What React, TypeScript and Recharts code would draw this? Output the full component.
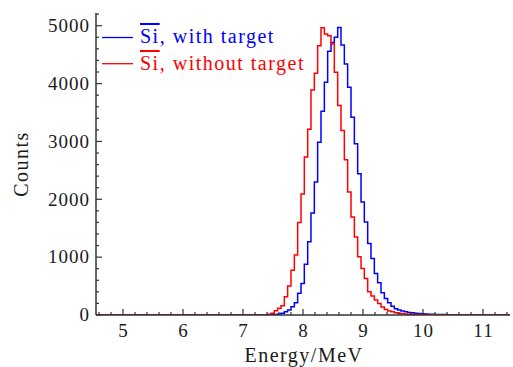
import React from 'react';
import { LineChart, Line, XAxis, YAxis } from 'recharts';

// Left edges of the histogram bins (MeV)
const energyEdges = [
  7.411, 7.467, 7.522, 7.578, 7.633, 7.689, 7.744, 7.8, 7.856, 7.911,
  7.967, 8.022, 8.078, 8.133, 8.189, 8.244, 8.3, 8.356, 8.411, 8.467,
  8.522, 8.578, 8.633, 8.689, 8.744, 8.8, 8.856, 8.911, 8.967, 9.022,
  9.078, 9.133, 9.189, 9.244, 9.3, 9.356, 9.411, 9.467, 9.522, 9.578,
  9.633, 9.689, 9.744, 9.8, 9.856, 9.911, 9.967, 10.022, 10.078, 10.133,
  10.189, 10.244, 10.3, 10.356, 10.411, 10.467, 10.522,
];

// Si-bar, with target
const blueCounts = [
  3, 5, 10, 18, 30, 57, 86, 143, 212, 374,
  546, 879, 1264, 1764, 2298, 2988, 3522, 4023, 4560, 4712,
  4800, 4970, 4667, 4340, 3937, 3420, 2960, 2443, 1954, 1609,
  1236, 977, 718, 557, 385, 287, 212, 150, 110, 85,
  68, 55, 45, 38, 30, 25, 22, 18, 15, 12,
  10, 9, 8, 7, 6, 5, 3,
];

// Si-bar, without target
const redCounts = [
  15, 30, 75, 115, 160, 315, 500, 775, 1035, 1600,
  2090, 2730, 3210, 3890, 4180, 4655, 4965, 4857, 4825, 4684,
  4195, 3620, 3190, 2684, 2126, 1695, 1350, 1005, 805, 632,
  402, 327, 258, 200, 140, 95, 70, 55, 40, 30,
  22, 18, 15, 12, 10, 8, 7, 6, 5, 4,
  4, 3, 3, 2, 2, 1, 0,
];

const xMajorTicks = [5, 6, 7, 8, 9, 10, 11];
const yMajorTicks = [0, 1000, 2000, 3000, 4000, 5000];
const xDomain: [number, number] = [4.55, 11.45];
const yDomain: [number, number] = [0, 5220];
const seriesNames = ['with target', 'without target'];
const xTitle = 'Energy/MeV';
const yTitle = 'Counts';

const FONT = 'Liberation Serif, DejaVu Serif, serif';
const numStyle = { fontFamily: FONT, fontSize: 19, letterSpacing: 1 };
const wordStyle = { fontFamily: FONT, fontSize: 20, letterSpacing: 1.5 };
const AXIS = '#333333';
const TEXT = '#1a1a1a';
const BLUE = '#0000ff';
const RED = '#ff0000';
const TICK_MARGIN = 10;

const data = [
  { e: xDomain[0], blue: 0, red: 0 },
  ...energyEdges.map((e, i) => ({ e, blue: blueCounts[i], red: redCounts[i] })),
  { e: xDomain[1], blue: blueCounts[blueCounts.length - 1], red: redCounts[redCounts.length - 1] },
];

// all tick positions (major + minor)
const xAllTicks: number[] = [];
for (let k = 23; k <= 57; k++) xAllTicks.push(Math.round(k * 2) / 10);
const yAllTicks: number[] = [];
for (let k = 0; k <= 26; k++) yAllTicks.push(k * 200);

const isXMajor = (v: number) => xMajorTicks.some((t) => Math.abs(t - v) < 1e-6);
const isYMajor = (v: number) => yMajorTicks.includes(v);

const XTick = (props: any) => {
  const { x, y, payload } = props;
  const axisY = y - TICK_MARGIN;
  const v = payload.value;
  const major = isXMajor(v);
  return (
    <g>
      <line x1={x} x2={x} y1={axisY} y2={axisY - (major ? 6 : 3)} stroke={AXIS} strokeWidth={1.2} />
      {major && (
        <text x={x + 0.5} y={axisY + 22} textAnchor="middle" fill={TEXT} style={numStyle}>
          {v}
        </text>
      )}
    </g>
  );
};

const YTick = (props: any) => {
  const { x, y, payload } = props;
  const axisX = x + TICK_MARGIN;
  const v = payload.value;
  const major = isYMajor(v);
  return (
    <g>
      <line x1={axisX} x2={axisX + (major ? 6 : 3)} y1={y} y2={y} stroke={AXIS} strokeWidth={1.2} />
      {major && (
        <text x={axisX - 6} y={y} dy={6.3} textAnchor="end" fill={TEXT} style={numStyle}>
          {v}
        </text>
      )}
    </g>
  );
};

const XTitle = (p: any) => {
  const vb = p.viewBox;
  return (
    <text x={vb.x + vb.width / 2 + 1} y={vb.y + 47} textAnchor="middle" fill={TEXT} style={wordStyle}>
      {xTitle}
    </text>
  );
};

// y-axis title plus the legend block placed at the plot's top-left corner
const YTitleAndLegend = (p: any) => {
  const vb = p.viewBox;
  const cx = 21;
  const cy = vb.y + vb.height / 2;
  const px = vb.x + vb.width; // plot left edge
  const py = vb.y; // plot top edge
  const rows = [
    { name: seriesNames[0], color: BLUE, lineY: 24.5, baseY: 30 },
    { name: seriesNames[1], color: RED, lineY: 50.7, baseY: 57 },
  ];
  return (
    <g>
      <text x={cx} y={cy} dy={6.5} textAnchor="middle" transform={`rotate(-90, ${cx}, ${cy})`} fill={TEXT} style={wordStyle}>
        {yTitle}
      </text>
      {rows.map((r) => (
        <g key={r.name}>
          <line x1={px + 6} x2={px + 37} y1={py + r.lineY} y2={py + r.lineY} stroke={r.color} strokeWidth={1.3} />
          <text x={px + 44} y={py + r.baseY} fill={r.color} style={wordStyle}>
            <tspan style={{ textDecoration: 'overline', textDecorationThickness: '1px' }}>Si</tspan>
            <tspan>{', ' + r.name}</tspan>
          </text>
        </g>
      ))}
    </g>
  );
};

export default function App() {
  return (
    <div style={{ position: 'absolute', left: 0, top: 0, width: 513, height: 367, background: '#fff' }}>
      <LineChart width={513} height={367} data={data} margin={{ top: 13, right: 3, left: 0, bottom: 0 }}>
        <XAxis
          xAxisId="main"
          dataKey="e"
          type="number"
          domain={xDomain}
          allowDataOverflow
          ticks={xAllTicks}
          interval={0}
          tickSize={0}
          tickMargin={TICK_MARGIN}
          tickLine={false}
          tick={<XTick />}
          height={52}
          axisLine={{ stroke: AXIS, strokeWidth: 1.5 }}
          label={XTitle}
        />
        <XAxis
          xAxisId="top"
          orientation="top"
          type="number"
          domain={xDomain}
          allowDataOverflow
          height={0}
          tick={false}
          tickLine={false}
          axisLine={{ stroke: AXIS, strokeWidth: 1.5 }}
        />
        <YAxis
          yAxisId="main"
          type="number"
          domain={yDomain}
          allowDataOverflow
          ticks={yAllTicks}
          interval={0}
          tickSize={0}
          tickMargin={TICK_MARGIN}
          tickLine={false}
          tick={<YTick />}
          width={96}
          axisLine={{ stroke: AXIS, strokeWidth: 1.5 }}
          label={YTitleAndLegend}
        />
        <YAxis
          yAxisId="right"
          orientation="right"
          type="number"
          domain={yDomain}
          allowDataOverflow
          width={0}
          tick={false}
          tickLine={false}
          axisLine={{ stroke: AXIS, strokeWidth: 1.5 }}
        />
        <Line
          xAxisId="main"
          yAxisId="main"
          type="stepAfter"
          dataKey="blue"
          stroke={BLUE}
          strokeWidth={1.5}
          dot={false}
          activeDot={false}
          isAnimationActive={false}
        />
        <Line
          xAxisId="main"
          yAxisId="main"
          type="stepAfter"
          dataKey="red"
          stroke={RED}
          strokeWidth={1.5}
          dot={false}
          activeDot={false}
          isAnimationActive={false}
        />
      </LineChart>
    </div>
  );
}
